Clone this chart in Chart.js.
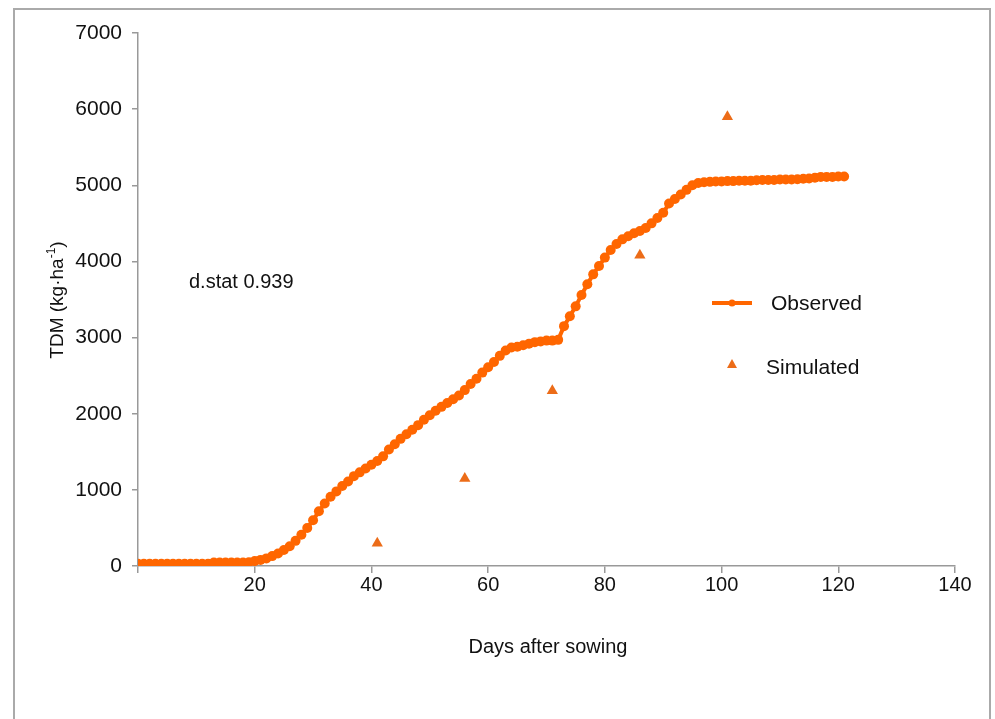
<!DOCTYPE html>
<html>
<head>
<meta charset="utf-8">
<script src="https://cdn.jsdelivr.net/npm/chart.js@4.4.1/dist/chart.umd.min.js"></script>
<style>
  html, body { margin: 0; padding: 0; background: #fff; }
  #wrap { position: relative; width: 995px; height: 719px; overflow: hidden; }
  #frame { position: absolute; left: 13px; top: 8px; width: 978px; height: 760px;
           border: 2px solid #aaa; border-bottom: none; box-sizing: border-box; }
  canvas { position: absolute; left: 0; top: 0; }
</style>
</head>
<body>
<div id="wrap">
  <div id="frame"></div>
  <canvas id="tdmChart" width="995" height="719"></canvas>
</div>
<script>
// Observed TDM, one reading per day after sowing
const observedDays = [
  0, 1, 2, 3, 4, 5, 6, 7, 8, 9, 10, 11, 12, 13, 14, 15, 16, 17, 18, 19,
  20, 21, 22, 23, 24, 25, 26, 27, 28, 29, 30, 31, 32, 33, 34, 35, 36, 37, 38, 39,
  40, 41, 42, 43, 44, 45, 46, 47, 48, 49, 50, 51, 52, 53, 54, 55, 56, 57, 58, 59,
  60, 61, 62, 63, 64, 65, 66, 67, 68, 69, 70, 71, 72, 73, 74, 75, 76, 77, 78, 79,
  80, 81, 82, 83, 84, 85, 86, 87, 88, 89, 90, 91, 92, 93, 94, 95, 96, 97, 98, 99,
  100, 101, 102, 103, 104, 105, 106, 107, 108, 109, 110, 111, 112, 113, 114, 115, 116, 117, 118, 119,
  120, 121
];
const observedTDM = [
  30, 30, 30, 30, 30, 30, 30, 30, 30, 30, 30, 30, 30, 45, 45, 45, 45, 45, 45, 50,
  65, 80, 100, 130, 165, 210, 260, 330, 410, 500, 600, 720, 820, 910, 980, 1050, 1110, 1180, 1230, 1280,
  1330, 1380, 1440, 1530, 1600, 1670, 1730, 1790, 1850, 1920, 1980, 2040, 2090, 2140, 2190, 2240, 2310, 2390, 2460, 2540,
  2610, 2680, 2760, 2830, 2870, 2880, 2900, 2920, 2940, 2950, 2960, 2960, 2970, 3150, 3280, 3410, 3560, 3700, 3830, 3940,
  4050, 4150, 4230, 4290, 4330, 4370, 4400, 4440, 4500, 4570, 4640, 4760, 4820, 4880, 4940, 5000, 5030, 5040, 5045, 5050,
  5050, 5055, 5055, 5060, 5060, 5060, 5065, 5070, 5070, 5070, 5075, 5075, 5075, 5080, 5085, 5090, 5100, 5110, 5110, 5110,
  5115, 5115
];

// Simulated TDM
const simulatedDays = [41, 56, 71, 86, 101];
const simulatedTDM = [300, 1150, 2300, 4080, 5900];

const xTicks = [0, 20, 40, 60, 80, 100, 120, 140];
const yTicks = [0, 1000, 2000, 3000, 4000, 5000, 6000, 7000];

const orange = 'rgb(255, 102, 0)';
const triOrange = 'rgb(236, 108, 24)';
const font = '"Liberation Sans", Arial, sans-serif';

// titles, legend and the d.stat note
const extras = {
  id: 'extras',
  afterDraw(chart) {
    const c = chart.ctx;
    c.save();
    c.fillStyle = '#111';
    c.textBaseline = 'middle';

    // x title
    c.font = '20px ' + font;
    c.textAlign = 'center';
    c.fillText('Days after sowing', 548, 647);

    // y title with superscript
    c.save();
    c.translate(58, 300);
    c.rotate(-Math.PI / 2);
    const a = 'TDM (kg\u00b7ha';
    const b = ')';
    c.font = '12px ' + font;
    const supW = c.measureText('-1').width;
    c.font = '19px ' + font;
    const total = c.measureText(a).width + supW + c.measureText(b).width;
    let x = -total / 2;
    c.textAlign = 'left';
    c.fillText(a, x, 0);
    x += c.measureText(a).width;
    c.font = '12px ' + font;
    c.fillText('-1', x, -6);
    x += supW;
    c.font = '19px ' + font;
    c.fillText(b, x, 0);
    c.restore();

    // d.stat
    c.font = '20px ' + font;
    c.textAlign = 'left';
    c.fillText('d.stat 0.939', 189, 282);

    // legend
    c.strokeStyle = orange;
    c.lineWidth = 4;
    c.beginPath();
    c.moveTo(712, 303);
    c.lineTo(752, 303);
    c.stroke();
    c.fillStyle = orange;
    c.beginPath();
    c.arc(732, 303, 3.5, 0, Math.PI * 2);
    c.fill();

    c.fillStyle = triOrange;
    c.beginPath();
    c.moveTo(732, 359);
    c.lineTo(737, 368);
    c.lineTo(727, 368);
    c.closePath();
    c.fill();

    c.fillStyle = '#111';
    c.font = '21px ' + font;
    c.fillText('Observed', 771, 304);
    c.fillText('Simulated', 766, 368);
    c.restore();
  }
};

new Chart(document.getElementById('tdmChart'), {
  type: 'line',
  data: {
    datasets: [
      {
        label: 'Observed',
        data: observedDays.map((d, i) => ({ x: d, y: observedTDM[i] })),
        borderColor: orange,
        backgroundColor: orange,
        borderWidth: 4,
        pointRadius: 5,
        pointBackgroundColor: orange,
        pointBorderWidth: 0,
        tension: 0
      },
      {
        label: 'Simulated',
        data: simulatedDays.map((d, i) => ({ x: d, y: simulatedTDM[i] })),
        showLine: false,
        pointStyle: 'triangle',
        pointRadius: 6.5,
        pointBackgroundColor: triOrange,
        pointBorderColor: triOrange,
        pointBorderWidth: 0
      }
    ]
  },
  options: {
    responsive: false,
    animation: false,
    layout: { padding: { left: 0, right: 40, top: 33, bottom: 0 } },
    plugins: { legend: { display: false }, tooltip: { enabled: false } },
    scales: {
      x: {
        type: 'linear',
        min: 0,
        max: 140,
        afterBuildTicks: s => { s.ticks = xTicks.map(v => ({ value: v })); },
        afterFit: s => { s.height = 719 - 566; },
        grid: { drawOnChartArea: false, drawTicks: true, tickLength: 7, color: '#999', lineWidth: 1.5 },
        border: { color: '#999', width: 1.5 },
        ticks: {
          color: '#111',
          font: { family: font, size: 20 },
          padding: 0,
          callback: v => (v === 0 ? '' : String(v))
        }
      },
      y: {
        min: 0,
        max: 7000,
        afterBuildTicks: s => { s.ticks = yTicks.map(v => ({ value: v })); },
        afterFit: s => { s.width = 138; },
        grid: { drawOnChartArea: false, drawTicks: true, tickLength: 6, color: '#999', lineWidth: 1.5 },
        border: { color: '#999', width: 1.5 },
        ticks: {
          color: '#111',
          font: { family: font, size: 21 },
          padding: 10,
          callback: v => String(v)
        }
      }
    }
  },
  plugins: [extras]
});
</script>
</body>
</html>
